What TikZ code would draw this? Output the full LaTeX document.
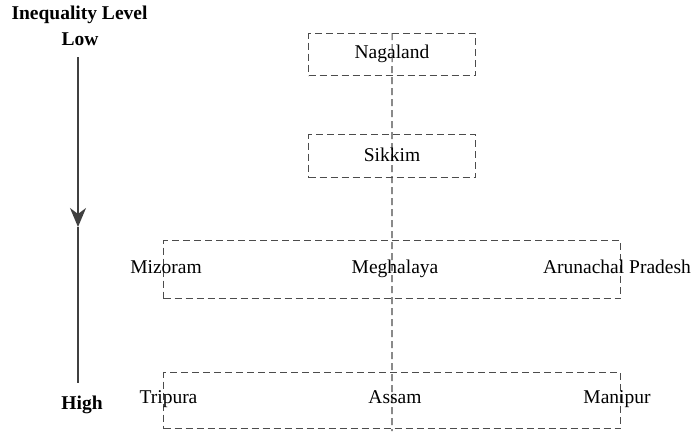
\documentclass[tikz,border=0pt]{standalone}
\usepackage{fontspec}
\setmainfont{Liberation Serif}
\usetikzlibrary{arrows.meta}
\begin{document}
\begin{tikzpicture}[x=1pt,y=-1pt,
  every node/.style={font=\fontsize{19.5}{23}\selectfont, text=black, inner sep=0pt, text height=13.5pt, text depth=4.5pt},
  lbl/.style={font=\fontsize{19.5}{23}\selectfont\bfseries},
  dbox/.style={draw=black!70, line width=1.2pt, dash pattern=on 7pt off 4pt, rectangle, anchor=north west, text height=, text depth=},
  dline/.style={draw=black!70, line width=1.2pt, dash pattern=on 7pt off 4pt},
  axis/.style={draw=black!75, line width=1.3pt}]
\useasboundingbox (0,0) rectangle (692,431);
% boxes
\node[dbox, minimum width=167pt, minimum height=42pt] (nagbox) at (308,33) {};
\node[dbox, minimum width=167pt, minimum height=43pt] (sikbox) at (308,134) {};
\node[dbox, minimum width=457pt, minimum height=58pt] (midbox) at (163,240) {};
\node[dbox, minimum width=457pt, minimum height=56pt] (lowbox) at (163,372) {};
% vertical dashed spine
\coordinate (spineend) at (392,431);
\draw[dline] (nagbox.north) -- (spineend);
% labels
\node (nag) at (392,54) {Nagaland};
\node (sik) at (392,157) {Sikkim};
\node (miz) at (166,268.5) {Mizoram};
\node (meg) at (395,268.5) {Meghalaya};
\node (aru) at (617,268.5) {Arunachal Pradesh};
\node (tri) at (168.5,399) {Tripura};
\node (ass) at (395,399) {Assam};
\node (man) at (617,399) {Manipur};
% left axis
\node[lbl] (title) at (79.5,15) {Inequality Level};
\node[lbl] (low) at (80,41) {Low};
\node[lbl] (high) at (82,405) {High};
\coordinate (atop) at (78,57);
\coordinate (amid) at (78,227);
\coordinate (abot) at (78,383);
\draw[axis, -{Stealth[length=19pt,width=16pt,inset=6pt]}] (atop) -- (amid);
\draw[axis] (amid) -- (abot);
\end{tikzpicture}
\end{document}
